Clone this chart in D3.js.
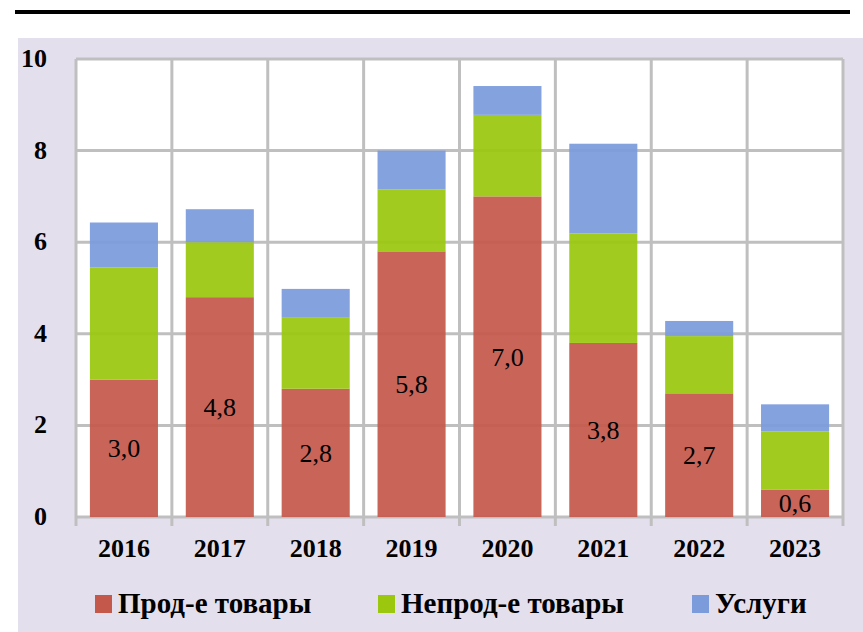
<!DOCTYPE html>
<html>
<head>
<meta charset="utf-8">
<script src="https://cdn.jsdelivr.net/npm/d3@7"></script>
<style>
  body { margin: 0; background: #fff; }
  text { font-family: "Liberation Serif", "DejaVu Serif", serif; }
</style>
</head>
<body>
<div id="chart"></div>
<script>
var width = 863, height = 632;

// data
var years = ["2016", "2017", "2018", "2019", "2020", "2021", "2022", "2023"];
var food = [3.0, 4.8, 2.8, 5.8, 7.0, 3.8, 2.7, 0.6];
var nonFood = [2.45, 1.2, 1.55, 1.35, 1.78, 2.39, 1.25, 1.27];
var services = [0.98, 0.72, 0.63, 0.85, 0.63, 1.96, 0.33, 0.59];
var seriesNames = ["Прод-е товары", "Непрод-е товары", "Услуги"];
var colors = ["#c4594b", "#9bc70f", "#7b9bdb"];
var yTicks = [0, 2, 4, 6, 8, 10];

var svg = d3.select('#chart')
    .append('svg')
    .attr('width', width)
    .attr('height', height);

// top rule and background panel
svg.append('rect').attr('x', 18).attr('y', 38).attr('width', width - 18).attr('height', height - 38)
    .attr('fill', '#e4dfec');
svg.append('line').attr('x1', 15).attr('x2', 850).attr('y1', 12).attr('y2', 12)
    .attr('stroke', '#000').attr('stroke-width', 4);

var plotL = 76, plotR = 843, plotT = 59, plotB = 517;

var x = d3.scaleBand().domain(years).range([plotL, plotR]).paddingInner(0.29).paddingOuter(0.145);
var y = d3.scaleLinear().domain([0, 10]).range([plotB, plotT]);

svg.append('rect').attr('x', plotL).attr('y', plotT).attr('width', plotR - plotL).attr('height', plotB - plotT)
    .attr('fill', '#fff').attr('rx', 2);

var step = (plotR - plotL) / years.length;
var grid = svg.append('g').attr('stroke', '#bfbfbf').attr('stroke-width', 3);
grid.selectAll('line.h').data(yTicks).enter().append('line')
    .attr('x1', plotL).attr('x2', plotR)
    .attr('y1', function(d){ return y(d) }).attr('y2', function(d){ return y(d) });
grid.selectAll('line.v').data(d3.range(years.length + 1)).enter().append('line')
    .attr('x1', function(i){ return plotL + i * step }).attr('x2', function(i){ return plotL + i * step })
    .attr('y1', plotT).attr('y2', plotB + 9);

// stacked bars
var table = years.map(function(yr, i){
  return { year: yr, food: food[i], nonFood: nonFood[i], services: services[i] };
});
var stack = d3.stack().keys(["food", "nonFood", "services"])(table);

svg.selectAll('g.series').data(stack).enter().append('g')
    .attr('fill', function(d, i){ return colors[i] })
    .attr('fill-opacity', 0.93)
    .selectAll('rect').data(function(d){ return d }).enter().append('rect')
    .attr('x', function(d){ return x(d.data.year) })
    .attr('width', x.bandwidth())
    .attr('y', function(d){ return y(d[1]) })
    .attr('height', function(d){ return y(d[0]) - y(d[1]) });

// labels in food segment
svg.selectAll('text.val').data(table).enter().append('text')
    .attr('x', function(d){ return x(d.year) + x.bandwidth() / 2 })
    .attr('y', function(d){ return y(d.food / 2) + 9 })
    .attr('text-anchor', 'middle')
    .attr('font-size', 26)
    .text(function(d){ return d.food.toFixed(1).replace('.', ',') });

// axes labels
svg.selectAll('text.ytick').data(yTicks).enter().append('text')
    .attr('x', 47).attr('y', function(d){ return y(d) + 8 })
    .attr('text-anchor', 'end').attr('font-size', 26).attr('font-weight', 'bold')
    .text(function(d){ return d });

svg.selectAll('text.xtick').data(years).enter().append('text')
    .attr('x', function(d){ return x(d) + x.bandwidth() / 2 }).attr('y', 557)
    .attr('text-anchor', 'middle').attr('font-size', 26).attr('font-weight', 'bold')
    .text(function(d){ return d });

// legend
var legendX = [95, 378, 692];
var legend = svg.selectAll('g.legend').data(seriesNames).enter().append('g')
    .attr('transform', function(d, i){ return 'translate(' + legendX[i] + ',595)' });
legend.append('rect').attr('width', 17).attr('height', 18)
    .attr('fill', function(d, i){ return colors[i] });
legend.append('text').attr('x', 23).attr('y', 18)
    .attr('font-size', 29).attr('font-weight', 'bold')
    .text(function(d){ return d });
</script>
</body>
</html>
